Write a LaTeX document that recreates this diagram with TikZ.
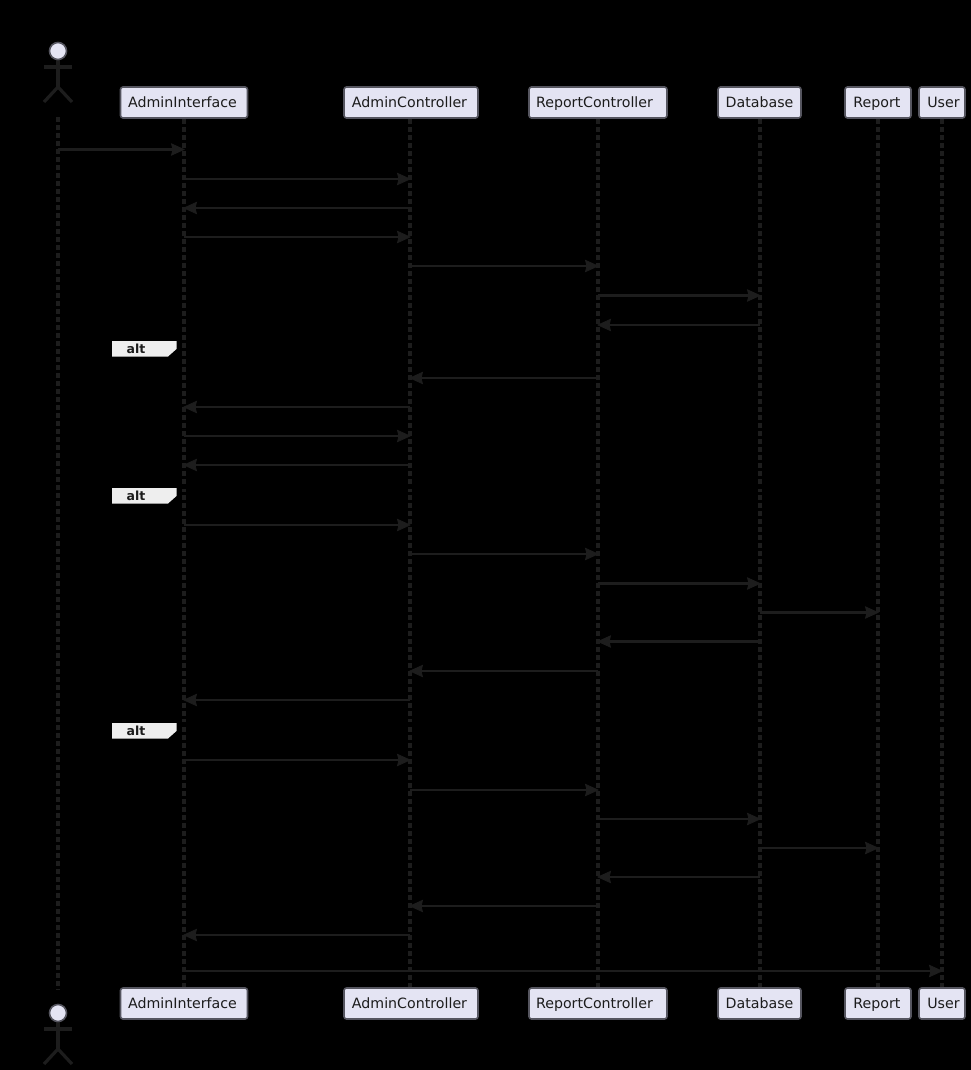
\documentclass[tikz,border=0pt]{standalone}
\usepackage{fontspec}
\setmainfont{DejaVu Sans}
\usetikzlibrary{arrows.meta}
\definecolor{ink}{HTML}{1D1D1D}
\definecolor{textink}{HTML}{1C1C1C}
\definecolor{boxfill}{HTML}{E4E4F3}
\definecolor{boxline}{HTML}{55555F}
\definecolor{labelfill}{HTML}{EEEEEE}
\tikzset{
  actorbox/.style={draw=boxline,line width=1.6pt,fill=boxfill,rounded corners=2.5pt,minimum height=31pt,inner sep=0pt,text=textink,text height=10.6pt,text depth=0.2pt,font=\fontsize{14.2}{16}\selectfont,anchor=center},
  lifeline/.style={draw=ink,line width=3.2pt,dash pattern=on 5pt off 3pt},
  msg/.style={draw=ink,line width=2.8pt,-{Stealth[length=14pt,width=12.5pt,inset=1.5pt,fill=ink,line width=0.8pt]},shorten >=-1pt},
  limb/.style={draw=ink,line width=3.2pt},
  headdot/.style={circle,draw=boxline,line width=1.6pt,fill=boxfill,minimum size=17pt,inner sep=0pt},
  alttag/.style={fill=labelfill,draw=none},
  alttext/.style={text=textink,font=\bfseries\fontsize{12.5}{14}\selectfont,inner sep=0pt},
  framerule/.style={draw=black,line width=1.5pt}
}
\newcommand{\stick}[2]{%
  \draw[limb] (#1,#2+8) -- (#1,#2+36);
  \draw[limb] (#1-14,#2+16) -- (#1+14,#2+16);
  \draw[limb] (#1,#2+36) -- (#1-14,#2+51);
  \draw[limb] (#1,#2+36) -- (#1+14,#2+51);
}
\newcommand{\altbox}[1]{%
  \draw[framerule] (112,#1) -- (953,#1);
  \fill[alttag] (112,#1) -- (176.5,#1) -- (176.5,#1+8) -- (168,#1+15.5) -- (112,#1+15.5) -- cycle;
  \node[alttext] at (136,#1+7.7) {alt};
}
\newcommand{\msgline}[3]{\draw[msg] (#1 |- 0,#3) -- (#2 |- 0,#3);}
\begin{document}
\begin{tikzpicture}[x=1pt,y=-1pt]
\useasboundingbox[fill=black] (0,0) rectangle (971,1070);
% lifeline anchors
\coordinate (actT) at (58,117);
\coordinate (actB) at (58,990);
% boxes
\node[actorbox,minimum width=127pt] (aiT) at (184,102.5) {AdminInterface\hspace*{3pt}};
\node[actorbox,minimum width=134pt] (acT) at (411,102.5) {AdminController\hspace*{3pt}};
\node[actorbox,minimum width=138pt] (rcT) at (598,102.5) {ReportController\hspace*{7pt}};
\node[actorbox,minimum width=83pt] (dbT) at (759.5,102.5) {Database};
\node[actorbox,minimum width=66pt] (rpT) at (878,102.5) {Report\hspace*{2pt}};
\node[actorbox,minimum width=46pt] (usT) at (942,102.5) {\hspace*{3pt}User};
\node[actorbox,minimum width=127pt] (aiB) at (184,1003.5) {AdminInterface\hspace*{3pt}};
\node[actorbox,minimum width=134pt] (acB) at (411,1003.5) {AdminController\hspace*{3pt}};
\node[actorbox,minimum width=138pt] (rcB) at (598,1003.5) {ReportController\hspace*{7pt}};
\node[actorbox,minimum width=83pt] (dbB) at (759.5,1003.5) {Database};
\node[actorbox,minimum width=66pt] (rpB) at (878,1003.5) {Report\hspace*{2pt}};
\node[actorbox,minimum width=46pt] (usB) at (942,1003.5) {\hspace*{3pt}User};
% lifeline x positions
\coordinate (L0) at (58,0);
\coordinate (L1) at (184,0);
\coordinate (L2) at (410,0);
\coordinate (L3) at (598,0);
\coordinate (L4) at (760,0);
\coordinate (L5) at (878,0);
\coordinate (L6) at (942,0);
% lifelines
\draw[lifeline] (actT) -- (actB);
\draw[lifeline] (L1 |- aiT.south) -- (L1 |- aiB.north);
\draw[lifeline] (L2 |- acT.south) -- (L2 |- acB.north);
\draw[lifeline] (L3 |- rcT.south) -- (L3 |- rcB.north);
\draw[lifeline] (L4 |- dbT.south) -- (L4 |- dbB.north);
\draw[lifeline] (L5 |- rpT.south) -- (L5 |- rpB.north);
\draw[lifeline] (L6 |- usT.south) -- (L6 |- usB.north);
% actors
\stick{58}{51}
\node[headdot] (headT) at (58,51) {};
\stick{58}{1013}
\node[headdot] (headB) at (58,1013) {};
% alt frames
\altbox{341}
\altbox{488}
\altbox{723}
% messages
\msgline{L0}{L1}{149.5}
\msgline{L1}{L2}{179}
\msgline{L2}{L1}{208}
\msgline{L1}{L2}{237}
\msgline{L2}{L3}{266}
\msgline{L3}{L4}{295.5}
\msgline{L4}{L3}{325}
\msgline{L3}{L2}{378}
\msgline{L2}{L1}{407}
\msgline{L1}{L2}{436}
\msgline{L2}{L1}{465}
\msgline{L1}{L2}{525}
\msgline{L2}{L3}{554}
\msgline{L3}{L4}{583.5}
\msgline{L4}{L5}{612.5}
\msgline{L4}{L3}{641.5}
\msgline{L3}{L2}{671}
\msgline{L2}{L1}{700}
\msgline{L1}{L2}{760}
\msgline{L2}{L3}{790}
\msgline{L3}{L4}{819}
\msgline{L4}{L5}{848}
\msgline{L4}{L3}{877}
\msgline{L3}{L2}{906}
\msgline{L2}{L1}{935}
\msgline{L1}{L6}{971}
\end{tikzpicture}
\end{document}
